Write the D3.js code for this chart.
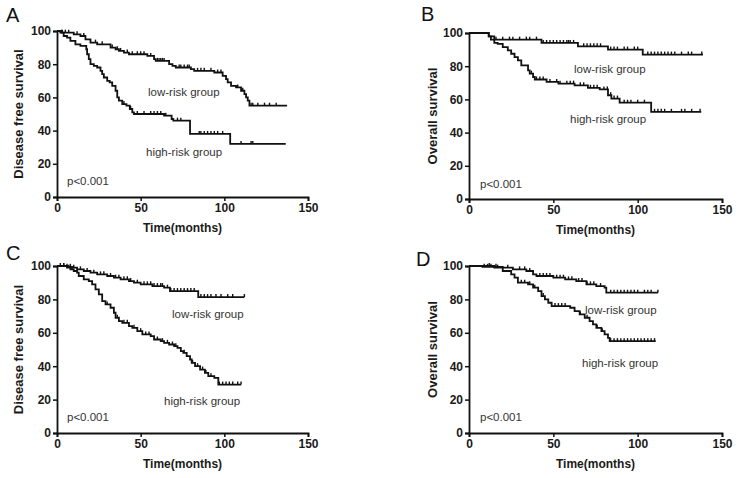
<!DOCTYPE html>
<html>
<head>
<meta charset="utf-8">
<script src="https://cdn.jsdelivr.net/npm/d3@7"></script>
<style>
  body { margin: 0; background: #fff; }
  svg { font-family: "Liberation Sans", Arial, sans-serif; }
</style>
</head>
<body>
<div id="chart"></div>
<script>
// A - disease free survival (training)
const aLowT = [0, 3, 10, 14, 17, 20, 24, 32, 35, 37, 40, 43, 54, 58, 59, 67, 69, 71, 80, 82, 94, 99, 101, 102, 104, 107, 110, 112, 113, 114, 115]
const aLowS = [100, 99, 98, 97, 95, 93, 92, 90, 89, 88, 87, 86, 85, 83, 82, 80, 79, 78, 77, 76, 75, 73, 71, 69, 67, 66, 64, 62, 60, 58, 55]
const aLowC = [3, 5, 7, 12, 16, 23, 27, 33, 36, 38, 42, 45, 48, 50, 52, 56, 60, 61, 62, 63, 64, 73, 74, 76, 78, 79, 84, 86, 88, 92, 96, 98, 108, 111, 116, 117, 120, 124, 127, 131]
const aLowEnd = 137.5
const aHighT = [0, 2, 4, 6, 8, 11, 14, 17.5, 18, 19, 20, 22, 24, 26, 27, 28, 30, 31.5, 33, 35, 36, 37, 39, 41.5, 43.5, 45, 46, 64, 68.5, 69.5, 79.5, 103.5]
const aHighS = [100, 99, 97, 96, 94, 92, 91, 89, 86, 83, 80, 79, 78, 76, 74, 72, 70, 69, 67, 64, 60, 58, 56, 55, 53, 51, 50, 49, 47, 46, 38, 32]
const aHighC = [3, 40, 44, 48, 52, 56, 58, 60, 62, 65, 72, 74, 85, 86, 88, 90, 92, 94, 96, 99, 110, 116, 117]
const aHighEnd = 136.7

// B - overall survival (training)
const bLowT = [0, 11.7, 15, 43, 64.6, 82.4, 103]
const bLowS = [100, 98, 96, 94, 92, 90, 87]
const bLowC = [16, 20, 24, 26, 30, 34, 36, 40, 44, 46, 48, 50, 52, 54, 56, 58, 59, 60, 62, 68, 70, 72, 74, 76, 78, 84, 86, 88, 92, 94, 98, 100, 106, 108, 110, 112, 114, 116, 118, 120, 122, 126, 130, 132, 138]
const bLowEnd = 138.7
const bHighT = [0, 11.7, 13, 15, 17, 20, 23, 25, 27, 29, 31, 35, 36, 38, 39, 46, 53, 62.6, 70.5, 77.5, 82.4, 84.4, 89.3, 108]
const bHighS = [100, 98, 96, 94, 93.5, 91.5, 89.5, 87.5, 85.5, 83.5, 80.5, 77.5, 75.5, 73.5, 72, 70.5, 69.5, 68.5, 67, 66, 62.5, 60.5, 58, 52.5]
const bHighC = [37, 40, 42, 44, 48, 52, 54, 58, 60, 62, 66, 68, 72, 74, 76, 80, 82, 84, 86, 88, 92, 94, 96, 100, 104, 110, 112, 114, 116, 120, 126, 128, 132, 137]
const bHighEnd = 137.7

// C - disease free survival (validation)
const cLowT = [0, 6, 9, 12, 16, 20, 24, 30, 34, 38, 43, 46, 50, 57, 64, 67.5, 84.4]
const cLowS = [100, 99.5, 99, 98, 97, 96, 95, 94, 93, 92, 91, 90, 89, 88, 87, 85, 81.4]
const cLowC = [2, 4, 6, 8, 10, 14, 18, 22, 26, 28, 32, 35, 37, 40, 42, 44, 48, 52, 54, 56, 58, 60, 62, 63, 66, 68, 70, 72, 74, 76, 78, 80, 82, 86, 88, 90, 92, 95, 98, 102, 105, 112]
const cLowEnd = 112
const cHighT = [0, 6, 8, 10, 12, 13, 16, 19, 21, 23, 25, 27, 29, 32, 34, 35, 37, 39, 43, 45, 48, 51, 56, 58, 62, 64, 67, 70, 72, 74, 75.5, 77.5, 79.5, 80.5, 82.5, 85.5, 88.4, 90.4, 94, 96.4]
const cHighS = [100, 99, 98, 97, 96, 94, 92, 91, 89, 86, 83, 79, 77, 75, 72, 69, 67, 66, 64, 63, 61, 59, 58, 56, 55, 54, 53, 52, 51, 49, 48, 46, 44, 42, 40, 38, 36, 34, 33, 29]
const cHighC = [4, 7, 9, 30, 36, 40, 42, 46, 50, 53, 55, 60, 63, 66, 69, 71, 76, 81, 84, 87, 89, 92, 97, 99, 101, 103, 105, 108, 110]
const cHighEnd = 110

// D - overall survival (validation)
const dLowT = [0, 8, 20, 26, 34, 38, 40, 50, 57, 63.6, 69.6, 75.5, 80.4, 81.4]
const dLowS = [100, 99.5, 99, 98, 97, 95, 94, 93, 92, 91, 89, 88, 87, 84]
const dLowC = [9, 11, 13, 16, 23, 30, 33, 36, 42, 44, 46, 48, 52, 54, 56, 59, 61, 65, 67, 70, 72, 74, 78, 84, 86, 88, 90, 92, 94, 96, 98, 100, 104, 106, 108, 112]
const dLowEnd = 112
const dHighT = [0, 15, 20, 25, 27, 29, 35, 38, 41, 43, 45, 47, 49, 60, 62.6, 65.6, 68.6, 71.5, 73.5, 75.5, 78.5, 80.4, 82.4, 83.4]
const dHighS = [100, 99, 97, 95, 93, 90, 89, 87, 85, 82, 80, 78, 76, 75, 73, 71, 69, 67, 65, 63, 61, 59, 57, 55]
const dHighC = [12, 17, 31, 33, 36, 39, 44, 51, 53, 55, 57, 66, 70, 76, 79, 84, 86, 88, 90, 92, 94, 96, 98, 100, 102, 104, 106, 108, 110]
const dHighEnd = 110.7

const xTicks = [0, 50, 100, 150]
const yTicks = [0, 20, 40, 60, 80, 100]

const W = 739, H = 478

const svg = d3.select("#chart").append("svg")
  .attr("width", W)
  .attr("height", H)

const panels = [
  { letter: "A", lx: 6, ly: 22, x0: 57, x1: 308, y0: 197, y1: 31, ytitle: "Disease free survival", tx: 23,
    low: [aLowT, aLowS, aLowC, aLowEnd], high: [aHighT, aHighS, aHighC, aHighEnd],
    lowLab: [148, 96], highLab: [146, 156], pLab: [67, 185] },
  { letter: "B", lx: 421, ly: 21, x0: 469, x1: 722, y0: 199, y1: 33, ytitle: "Overall survival", tx: 437,
    low: [bLowT, bLowS, bLowC, bLowEnd], high: [bHighT, bHighS, bHighC, bHighEnd],
    lowLab: [574, 73], highLab: [570, 123], pLab: [480, 188] },
  { letter: "C", lx: 6, ly: 260, x0: 57, x1: 308, y0: 433, y1: 266, ytitle: "Disease free survival", tx: 23,
    low: [cLowT, cLowS, cLowC, cLowEnd], high: [cHighT, cHighS, cHighC, cHighEnd],
    lowLab: [172, 318], highLab: [164, 405], pLab: [67, 421] },
  { letter: "D", lx: 416, ly: 266, x0: 469, x1: 722, y0: 433, y1: 266, ytitle: "Overall survival", tx: 437,
    low: [dLowT, dLowS, dLowC, dLowEnd], high: [dHighT, dHighS, dHighC, dHighEnd],
    lowLab: [585, 314], highLab: [582, 367], pLab: [480, 421] }
]

// survival value at time t for a step curve
function survAt(times, surv, t) {
  let s = surv[0]
  for (let i = 0; i < times.length; i++) {
    if (times[i] <= t) s = surv[i]
  }
  return s
}

function drawCurve(g, x, y, curve) {
  const [times, surv, cens, end] = curve
  const pts = times.map((t, i) => [t, surv[i]])
  pts.push([end, surv[surv.length - 1]])

  const line = d3.line()
    .x(d => x(d[0]))
    .y(d => y(d[1]))
    .curve(d3.curveStepAfter)

  g.append("path")
    .attr("d", line(pts))
    .attr("fill", "none")
    .attr("stroke", "#111")
    .attr("stroke-width", 1.8)

  // censor marks
  g.selectAll(null)
    .data(cens)
    .enter().append("line")
    .attr("x1", d => x(d))
    .attr("x2", d => x(d))
    .attr("y1", d => y(survAt(times, surv, d)) - 3)
    .attr("y2", d => y(survAt(times, surv, d)))
    .attr("stroke", "#111")
    .attr("stroke-width", 1.4)
}

panels.forEach(p => {
  const g = svg.append("g")

  const x = d3.scaleLinear().domain([0, 150]).range([p.x0, p.x1])
  const y = d3.scaleLinear().domain([0, 100]).range([p.y0, p.y1])

  // panel letter
  g.append("text")
    .attr("x", p.lx)
    .attr("y", p.ly)
    .attr("font-size", "20px")
    .attr("fill", "#111")
    .text(p.letter)

  const xAxis = g.append("g")
    .attr("transform", `translate(0, ${p.y0})`)
    .call(d3.axisBottom(x).tickValues(xTicks).tickSizeOuter(0).tickSize(4).tickPadding(2))
  const yAxis = g.append("g")
    .attr("transform", `translate(${p.x0}, 0)`)
    .call(d3.axisLeft(y).tickValues(yTicks).tickSizeOuter(0).tickSize(4).tickPadding(2))

  ;[xAxis, yAxis].forEach(ax => {
    ax.select(".domain").attr("stroke", "#111").attr("stroke-width", 1.8)
    ax.selectAll(".tick line").attr("stroke", "#111").attr("stroke-width", 1.5)
    ax.selectAll(".tick text")
      .attr("font-family", "Liberation Sans, Arial, sans-serif")
      .attr("font-size", "12px")
      .attr("font-weight", "bold")
      .attr("fill", "#1a1a1a")
  })

  // axis titles
  g.append("text")
    .attr("x", (p.x0 + p.x1) / 2)
    .attr("y", p.y0 + 35)
    .attr("text-anchor", "middle")
    .attr("font-size", "12px")
    .attr("font-weight", "bold")
    .attr("fill", "#1a1a1a")
    .text("Time(months)")

  g.append("text")
    .attr("transform", `translate(${p.tx}, ${(p.y0 + p.y1) / 2}) rotate(-90)`)
    .attr("text-anchor", "middle")
    .attr("font-size", "13px")
    .attr("font-weight", "bold")
    .attr("fill", "#1a1a1a")
    .text(p.ytitle)

  drawCurve(g, x, y, p.low)
  drawCurve(g, x, y, p.high)

  // annotations
  const notes = [[p.lowLab, "low-risk group"], [p.highLab, "high-risk group"], [p.pLab, "p<0.001"]]
  notes.forEach(n => {
    g.append("text")
      .attr("x", n[0][0])
      .attr("y", n[0][1])
      .attr("font-size", "11.5px")
      .attr("fill", "#333")
      .text(n[1])
  })
})
</script>
</body>
</html>
